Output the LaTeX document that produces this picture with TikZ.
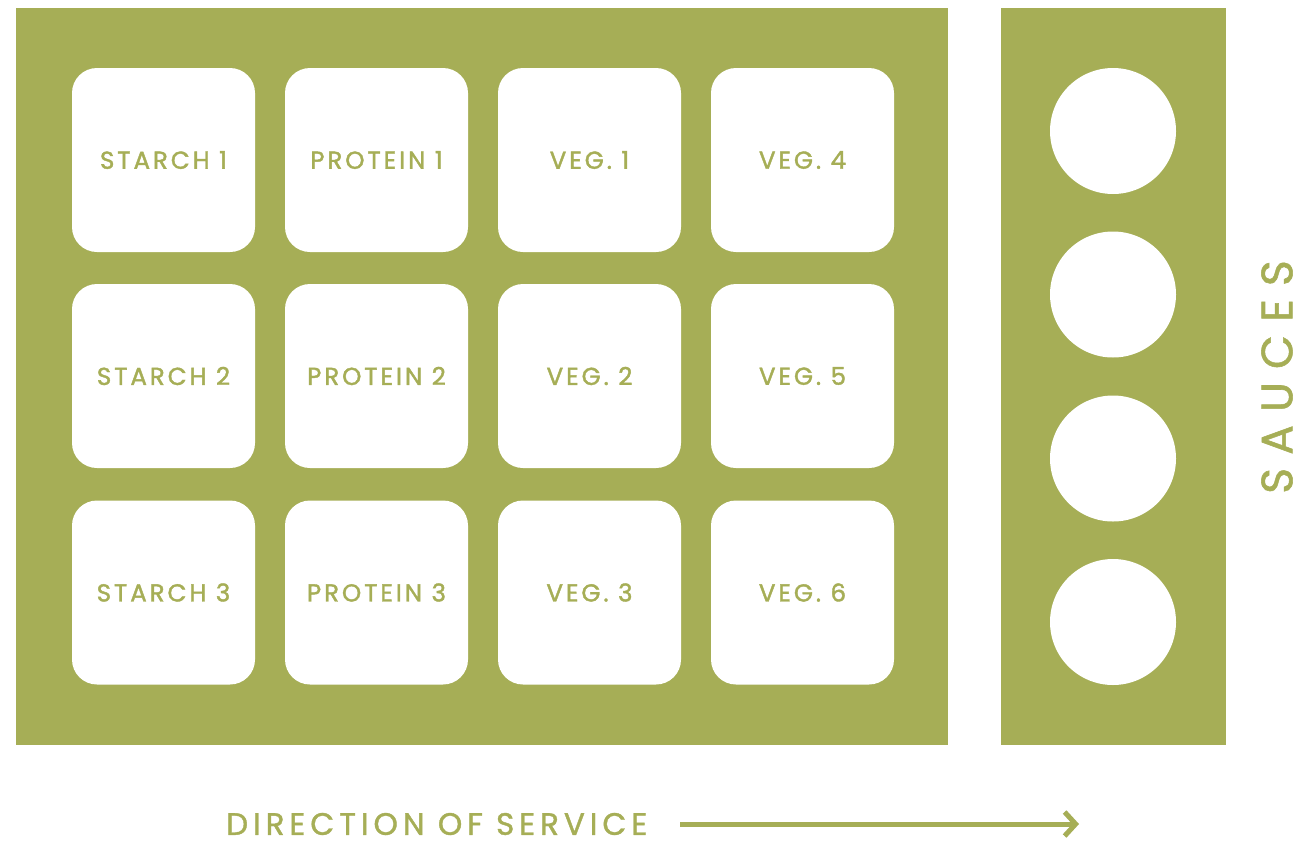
\documentclass[tikz,border=0pt]{standalone}
\usepackage{fontspec}
\setmainfont{Poppins}
\newfontfamily\cellfont[LetterSpace=12,FakeBold=1.6]{Poppins}
\newfontfamily\dirfont[LetterSpace=16,FakeBold=1.2]{Poppins}
\newfontfamily\saucefont[LetterSpace=30,FakeBold=1.2]{Poppins}
\usetikzlibrary{arrows.meta}
\definecolor{olive}{HTML}{A6AE56}
\tikzset{
  panel/.style={fill=olive, draw=none},
  cell/.style={fill=white, draw=none, rounded corners=25pt, minimum width=183pt, minimum height=184pt, inner sep=0pt, text=olive, font=\cellfont\fontsize{24.5}{28}\selectfont},
  sauce/.style={circle, fill=white, draw=none, minimum size=126pt, inner sep=0pt},
  lbl/.style={text=olive, inner sep=0pt},
  dirarrow/.style={draw=olive, line width=5pt, -{Straight Barb[length=11pt, width=24pt, line width=5pt]}}
}
\begin{document}
\begin{tikzpicture}[x=1pt,y=-1pt]
\useasboundingbox (0,0) rectangle (1315,841);
\fill[white] (0,0) rectangle (1315,841);
\path[panel] (16,8) rectangle (948,745);
\path[panel] (1001,8) rectangle (1226,745);
% cells
\node[cell] (s1) at (163.5,160) {STARCH 1};
\node[cell] (p1) at (376.5,160) {PROTEIN 1};
\node[cell] (v1) at (589.5,160) {VEG. 1};
\node[cell] (v4) at (802.5,160) {VEG. 4};
\node[cell] (s2) at (163.5,376) {STARCH 2};
\node[cell] (p2) at (376.5,376) {PROTEIN 2};
\node[cell] (v2) at (589.5,376) {VEG. 2};
\node[cell] (v5) at (802.5,376) {VEG. 5};
\node[cell] (s3) at (163.5,592.5) {STARCH 3};
\node[cell] (p3) at (376.5,592.5) {PROTEIN 3};
\node[cell] (v3) at (589.5,592.5) {VEG. 3};
\node[cell] (v6) at (802.5,592.5) {VEG. 6};
% sauces
\node[sauce] (c1) at (1113,131) {};
\node[sauce] (c2) at (1113,294.5) {};
\node[sauce] (c3) at (1113,458.5) {};
\node[sauce] (c4) at (1113,622) {};
\node[lbl, rotate=90, font=\saucefont\fontsize{44}{48}\selectfont] (sauces) at (1277,377) {SAUCES};
% direction
\node[lbl, anchor=west, font=\dirfont\fontsize{31}{36}\selectfont] (dir) at (226,824) {DIRECTION OF SERVICE};
\coordinate (astart) at (680,824);
\coordinate (aend) at (1079,824);
\draw[dirarrow] (astart) -- (aend);
\end{tikzpicture}
\end{document}
